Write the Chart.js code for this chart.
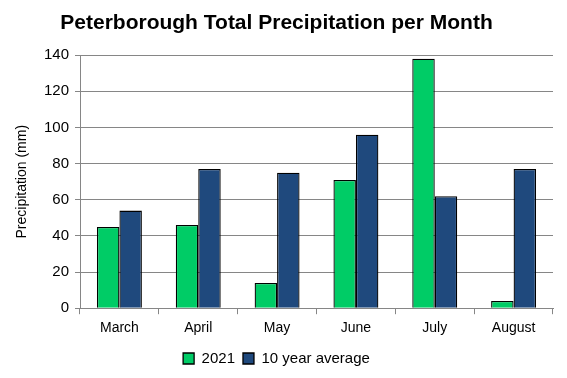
<!DOCTYPE html>
<html>
<head>
<meta charset="utf-8">
<script src="https://cdn.jsdelivr.net/npm/chart.js@4"></script>
<style>
html,body{margin:0;padding:0;background:#fff;}
#wrap{width:567px;height:378px;}
</style>
</head>
<body>
<div id="wrap"><canvas id="c" width="567" height="378"></canvas></div>
<script>
const months = ["March","April","May","June","July","August"];
const precip2021 = [45, 46, 14, 71, 138, 4];
const tenYearAvg = [54, 77, 75, 96, 62, 77];
const yTicks = [0,20,40,60,80,100,120,140];

const FONT = "'Liberation Sans', Arial, sans-serif";
new Chart(document.getElementById('c'), {
  type: 'bar',
  data: {
    labels: months,
    datasets: [
      {label: '2021', data: precip2021, backgroundColor: '#00cc66', borderColor: '#000', borderWidth: 1.3, borderSkipped: 'bottom'},
      {label: '10 year average', data: tenYearAvg, backgroundColor: '#1f497d', borderColor: '#000', borderWidth: 1.3, borderSkipped: 'bottom'}
    ]
  },
  options: {
    responsive: false,
    animation: false,
    devicePixelRatio: 1,
    layout: {padding: {left: 0, right: 14, top: 0, bottom: 2}},
    datasets: {bar: {barPercentage: 1.0, categoryPercentage: 0.57}},
    plugins: {
      title: {display: true, text: 'Peterborough Total Precipitation per Month', color: '#000',
        font: {family: FONT, size: 21, weight: 'bold'}, padding: {top: 11, bottom: 19}},
      legend: {position: 'bottom', labels: {color: '#000', font: {family: FONT, size: 15}, boxWidth: 11, boxHeight: 11, padding: 8}},
      tooltip: {enabled: false}
    },
    scales: {
      x: {
        grid: {display: true, offset: true, drawOnChartArea: false, drawTicks: true, tickLength: 6, color: '#868686'},
        border: {display: true, color: '#868686', width: 1},
        ticks: {color: '#000', font: {family: FONT, size: 14}, padding: 6}
      },
      y: {
        min: 0, max: 140,
        afterBuildTicks: (s) => { s.ticks = yTicks.map(v => ({value: v})); },
        afterFit: (s) => { s.width = 80; },
        grid: {color: '#868686', tickLength: 5, lineWidth: 1},
        border: {display: true, color: '#868686', width: 1},
        ticks: {color: '#000', font: {family: FONT, size: 15}, padding: 6},
        title: {display: true, text: 'Precipitation (mm)', color: '#000', font: {family: FONT, size: 14}, padding: {top: 14, bottom: 0}}
      }
    }
  }
});
</script>
</body>
</html>
